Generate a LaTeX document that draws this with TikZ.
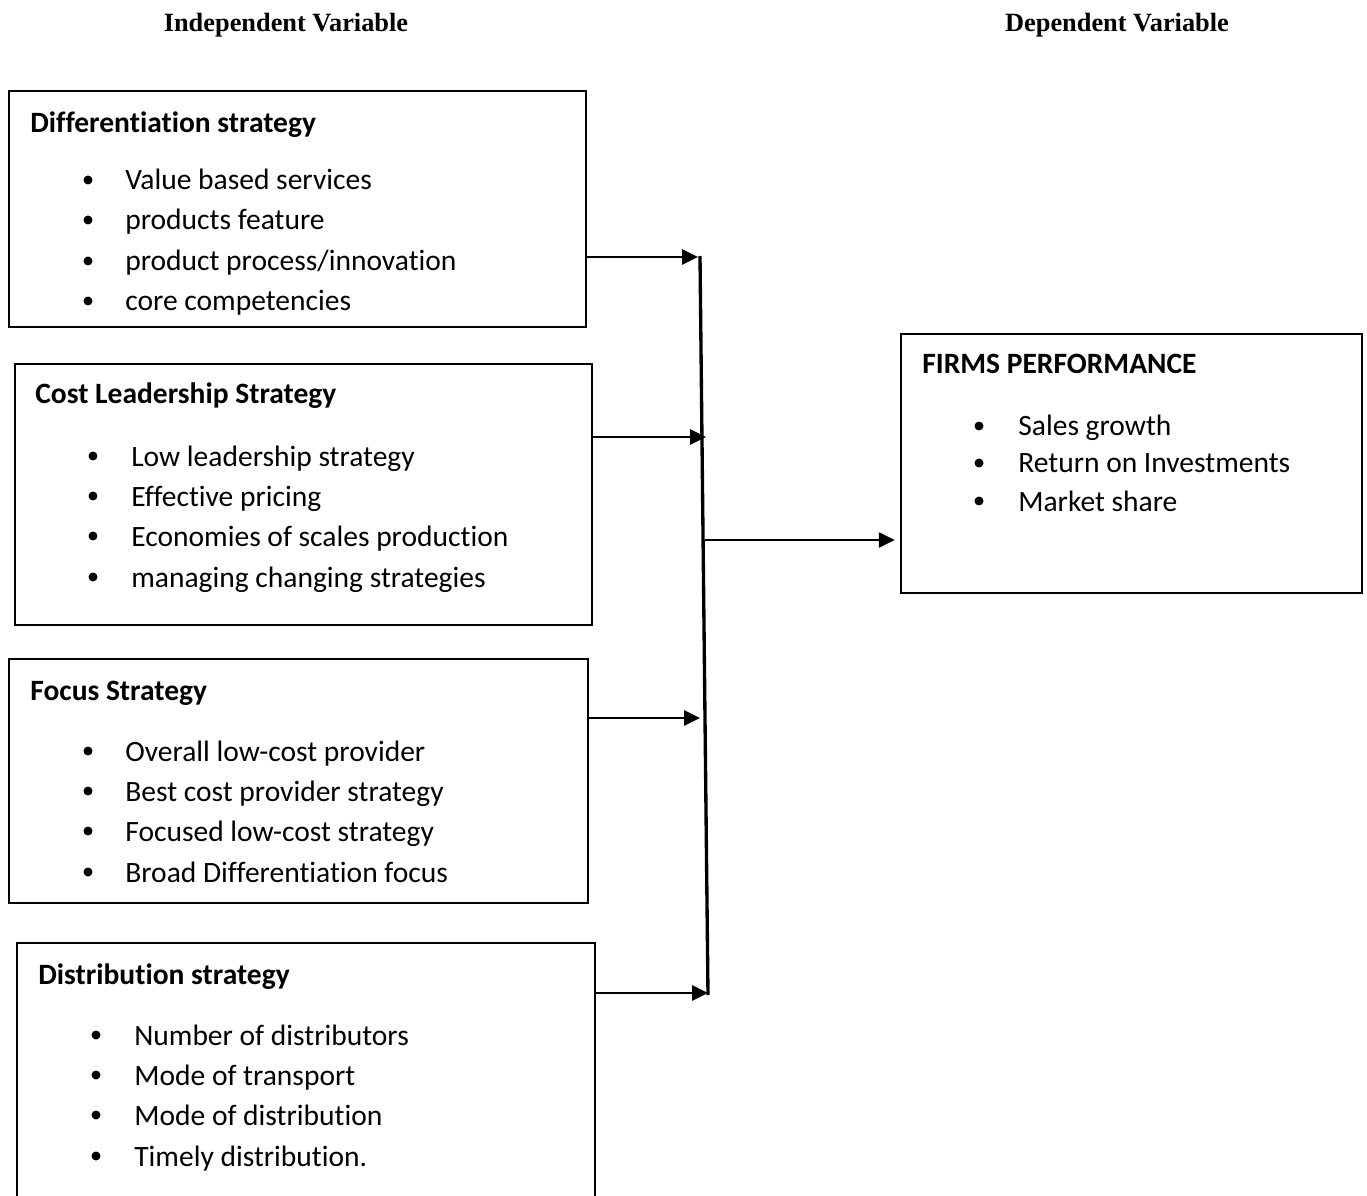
\documentclass[tikz,border=0pt]{standalone}
\usepackage{fontspec}
\setmainfont[Ligatures=CommonOff]{Carlito}
\newfontfamily\headfont{Liberation Serif}
\usetikzlibrary{arrows.meta,positioning}

\tikzset{
  box/.style={draw, line width=1.2pt, inner sep=0pt, anchor=north west},
  title/.style={anchor=base west, inner sep=0pt, font=\fontsize{16.8}{20}\selectfont\bfseries},
  entry/.style={anchor=base west, inner sep=0pt, font=\fontsize{16.8}{20}\selectfont},
  dot/.style={circle, fill, inner sep=0pt, minimum size=0.18cm},
  head/.style={anchor=base, inner sep=0pt, font=\fontsize{15}{18}\selectfont\headfont\bfseries},
  link/.style={line width=1.3pt, -{Triangle[length=9pt,width=8.5pt]}}
}

\begin{document}
\begin{tikzpicture}[x=0.02cm,y=-0.02cm]
  \useasboundingbox (0,0) rectangle (1367,1196);

  % headings
  \node[head] (indep) at (286,32) {Independent Variable};
  \node[head] (dep) at (1117,32) {Dependent Variable};

  % boxes
  \node[box, minimum width=11.54cm, minimum height=4.72cm] (diff) at (8,90) {};
  \node[box, minimum width=11.54cm, minimum height=5.22cm] (cost) at (14,363) {};
  \node[box, minimum width=11.58cm, minimum height=4.88cm] (focus) at (8,658) {};
  \node[box, minimum width=11.56cm, minimum height=5.40cm] (dist) at (16,942) {};
  \node[box, minimum width=9.22cm, minimum height=5.18cm] (firms) at (900,333) {};

  % differentiation
  \node[title] (diff-t) at (30,133) {Differentiation strategy};
  \node[dot] (diff-d1) at (88,180) {};
  \node[entry] (diff-1) at (125,190) {Value based services};
  \node[dot] (diff-d2) at (88,220) {};
  \node[entry] (diff-2) at (125,230) {products feature};
  \node[dot] (diff-d3) at (88,261) {};
  \node[entry] (diff-3) at (125,271) {product process/innovation};
  \node[dot] (diff-d4) at (88,301) {};
  \node[entry] (diff-4) at (125,311) {core competencies};

  % cost leadership
  \node[title] (cost-t) at (35,404) {Cost Leadership Strategy};
  \node[dot] (cost-d1) at (93,456) {};
  \node[entry] (cost-1) at (131,466) {Low leadership strategy};
  \node[dot] (cost-d2) at (93,496) {};
  \node[entry] (cost-2) at (131,506) {Effective pricing};
  \node[dot] (cost-d3) at (93,536) {};
  \node[entry] (cost-3) at (131,546) {Economies of scales production};
  \node[dot] (cost-d4) at (93,577) {};
  \node[entry] (cost-4) at (131,587) {managing changing strategies};

  % focus
  \node[title] (focus-t) at (30,700) {Focus Strategy};
  \node[dot] (focus-d1) at (88,751) {};
  \node[entry] (focus-1) at (125,761) {Overall low-cost provider};
  \node[dot] (focus-d2) at (88,791) {};
  \node[entry] (focus-2) at (125,801) {Best cost provider strategy};
  \node[dot] (focus-d3) at (88,831) {};
  \node[entry] (focus-3) at (125,841) {Focused low-cost strategy};
  \node[dot] (focus-d4) at (88,872) {};
  \node[entry] (focus-4) at (125,882) {Broad Differentiation focus};

  % distribution
  \node[title] (dist-t) at (38,984) {Distribution strategy};
  \node[dot] (dist-d1) at (96,1035) {};
  \node[entry] (dist-1) at (134,1045) {Number of distributors};
  \node[dot] (dist-d2) at (96,1075) {};
  \node[entry] (dist-2) at (134,1085) {Mode of transport};
  \node[dot] (dist-d3) at (96,1115) {};
  \node[entry] (dist-3) at (134,1125) {Mode of distribution};
  \node[dot] (dist-d4) at (96,1156) {};
  \node[entry] (dist-4) at (134,1166) {Timely distribution.};

  % firms performance
  \node[title] (firms-t) at (922,374) {FIRMS PERFORMANCE};
  \node[dot] (firms-d1) at (979,426) {};
  \node[entry] (firms-1) at (1018,436) {Sales growth};
  \node[dot] (firms-d2) at (979,463) {};
  \node[entry] (firms-2) at (1018,473) {Return on Investments};
  \node[dot] (firms-d3) at (979,501) {};
  \node[entry] (firms-3) at (1018,511) {Market share};

  % collecting bar
  \coordinate (bar-top) at (700,256);
  \coordinate (bar-bot) at (708,995);
  \draw[line width=1.9pt] (bar-top) -- (bar-bot);

  \coordinate (j1) at (698,257);
  \coordinate (j2) at (706,437);
  \coordinate (j3) at (700,718);
  \coordinate (j4) at (708,993);
  \coordinate (j5) at (705,540);

  \draw[link] (diff.east |- j1) -- (j1);
  \draw[link] (cost.east |- j2) -- (j2);
  \draw[link] (focus.east |- j3) -- (j3);
  \draw[link] (dist.east |- j4) -- (j4);
  \draw[link, shorten >=3pt] (j5) -- (firms.west |- j5);
\end{tikzpicture}
\end{document}
